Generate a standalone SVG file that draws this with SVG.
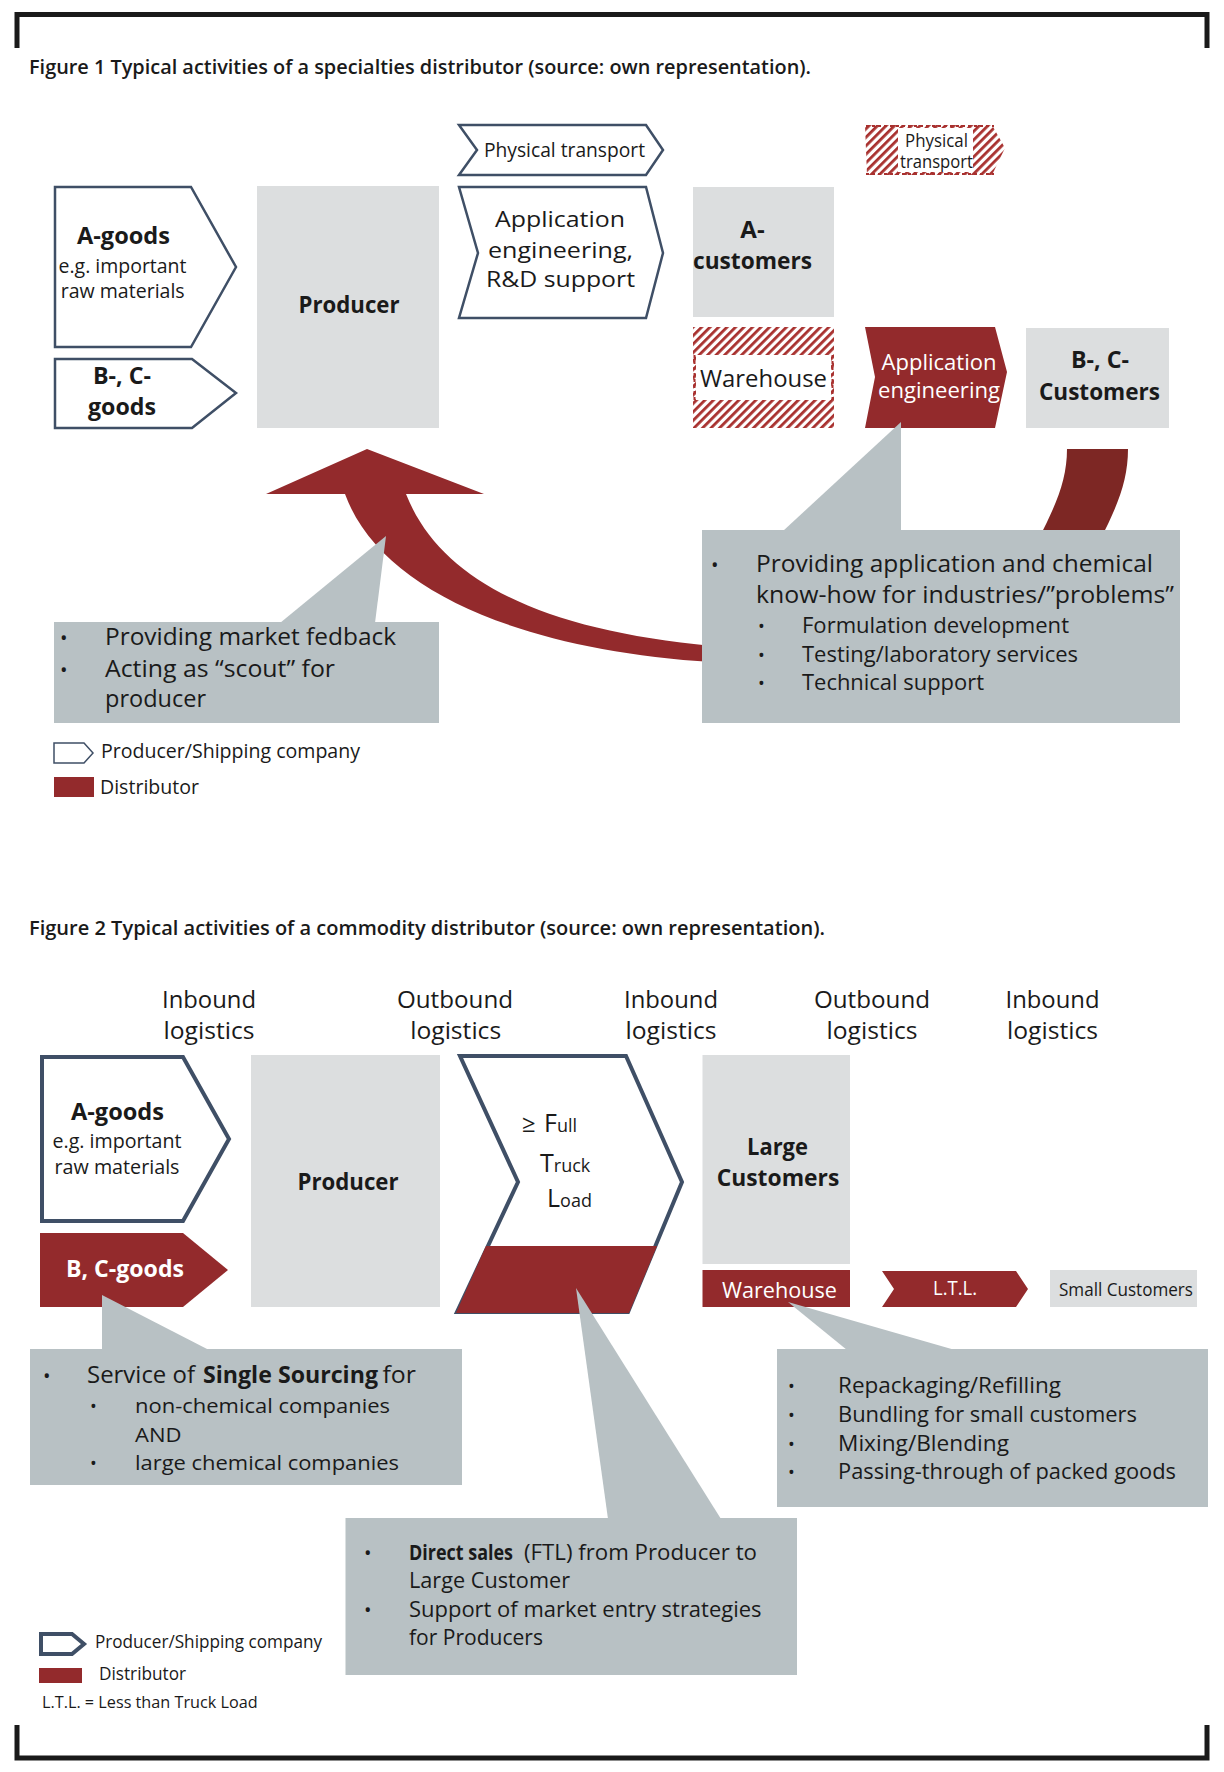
<svg xmlns="http://www.w3.org/2000/svg" width="1224" height="1772" viewBox="0 0 1224 1772">
<style>
text{font-family:'Open Sans','Noto Sans','Liberation Sans',sans-serif;fill:#1a1a1a}
.b{font-weight:700}
.s{font-weight:600}
.w{fill:#fff}
.m{text-anchor:middle}
.out{fill:#fff;stroke:#3f4f66;stroke-width:2.5}
.out4{fill:#fff;stroke:#3f4f66;stroke-width:4}
.box{fill:#dcdedf}
.red{fill:#932a2c}
.call{fill:#b8c1c4}
.frame{fill:none;stroke:#1a1a1a;stroke-width:5}
.dash{stroke:#a8302e;stroke-width:2;stroke-dasharray:3 3;fill:none}
</style>
<defs>
<pattern id="hatch" patternUnits="userSpaceOnUse" width="6" height="6" patternTransform="rotate(45)">
<rect width="6" height="6" fill="#fff"/>
<rect width="2.8" height="6" fill="#a8302e"/>
</pattern>
</defs>
<rect width="1224" height="1772" fill="#fff"/>

<g id="frame">
<path class="frame" d="M17,48 V14.5 H1207 V48"/>
<path class="frame" d="M17,1725 V1758 H1207 V1725"/>
</g>

<!-- ================= FIGURE 1 ================= -->
<text id="title1" class="s" x="29" y="74" font-size="20" textLength="782" lengthAdjust="spacingAndGlyphs">Figure 1 Typical activities of a specialties distributor (source: own representation).</text>

<g id="connectors">
<path class="red" d="M367,449 L266,494 L345,494 C380,590 520,650 712,662 L712,646 C540,630 440,580 406,494 L484,494 Z"/>
<path fill="#7d2724" d="M1067,449 L1128,449 C1128,480 1118,505 1100,540 L1038,540 C1056,505 1067,480 1067,449 Z"/>
</g>

<g id="f1-agoods">
<polygon class="out" points="55,187 191,187 236,267 191,347 55,347"/>
<text class="b m" x="123.5" y="244" font-size="24" textLength="93" lengthAdjust="spacingAndGlyphs">A-goods</text>
<text class="m" x="122.5" y="273" font-size="20" textLength="128" lengthAdjust="spacingAndGlyphs">e.g. important</text>
<text class="m" x="122.7" y="298" font-size="20" textLength="124" lengthAdjust="spacingAndGlyphs">raw materials</text>
</g>

<g id="f1-bcgoods">
<polygon class="out" points="55,359 192,359 236,393 192,428 55,428"/>
<text class="b m" x="122" y="384" font-size="24" textLength="58" lengthAdjust="spacingAndGlyphs">B-, C-</text>
<text class="b m" x="122" y="415" font-size="24" textLength="68" lengthAdjust="spacingAndGlyphs">goods</text>
</g>

<g id="f1-producer">
<rect class="box" x="257" y="186" width="182" height="242"/>
<text class="b m" x="349" y="313" font-size="24" textLength="101" lengthAdjust="spacingAndGlyphs">Producer</text>
</g>

<g id="f1-phys">
<polygon class="out" points="459,125 646,125 663,150 646,175 459,175 477,150"/>
<text x="484" y="157" font-size="20" textLength="161" lengthAdjust="spacingAndGlyphs">Physical transport</text>
</g>

<g id="f1-appeng">
<polygon class="out" points="459,187 646,187 663,253 646,318 459,318 478,253"/>
<text class="m" x="560" y="227" font-size="22" textLength="130" lengthAdjust="spacingAndGlyphs">Application</text>
<text class="m" x="560.5" y="258" font-size="22" textLength="145" lengthAdjust="spacingAndGlyphs">engineering,</text>
<text class="m" x="560.5" y="287" font-size="22" textLength="149" lengthAdjust="spacingAndGlyphs">R&amp;D support</text>
</g>

<g id="f1-acust">
<rect class="box" x="693" y="187" width="141" height="130"/>
<text class="b m" x="752.5" y="238" font-size="24">A-</text>
<text class="b m" x="752.5" y="269" font-size="24" textLength="119" lengthAdjust="spacingAndGlyphs">customers</text>
</g>

<g id="f1-warehouse">
<rect x="693" y="327" width="141" height="101" fill="url(#hatch)"/>
<rect x="696" y="355" width="135" height="45" fill="#fff"/>
<line class="dash" x1="694.5" y1="355" x2="694.5" y2="400"/>
<line class="dash" x1="832.5" y1="355" x2="832.5" y2="400"/>
<text x="700" y="387" font-size="24" textLength="127" lengthAdjust="spacingAndGlyphs">Warehouse</text>
</g>

<g id="f1-phys2">
<polygon points="865,125 992,125 1005,148 992,175 867,175" fill="url(#hatch)"/>
<rect x="898" y="128" width="75" height="44" fill="#fff"/>
<line class="dash" x1="866" y1="126" x2="994" y2="126"/>
<line class="dash" x1="866" y1="174" x2="994" y2="174"/>
<text class="m" x="936.5" y="147" font-size="18" textLength="63" lengthAdjust="spacingAndGlyphs">Physical</text>
<text class="m" x="936.5" y="168" font-size="18" textLength="73" lengthAdjust="spacingAndGlyphs">transport</text>
</g>

<g id="f1-appeng2">
<polygon class="red" points="865,327 995,327 1007,372 995,428 865,428 875,377"/>
<text class="w m" x="939" y="370" font-size="22" textLength="115" lengthAdjust="spacingAndGlyphs">Application</text>
<text class="w m" x="939" y="398" font-size="22" textLength="122" lengthAdjust="spacingAndGlyphs">engineering</text>
</g>

<g id="f1-bccust">
<rect class="box" x="1026" y="328" width="143" height="100"/>
<text class="b m" x="1100" y="368" font-size="24" textLength="58" lengthAdjust="spacingAndGlyphs">B-, C-</text>
<text class="b m" x="1099.5" y="400" font-size="24" textLength="121" lengthAdjust="spacingAndGlyphs">Customers</text>
</g>

<g id="f1-callout-right">
<polygon class="call" points="783,531 901,422 901,531"/>
<rect class="call" x="702" y="530" width="478" height="193"/>
<text x="711" y="572" font-size="20">•</text>
<text x="756" y="572" font-size="24" textLength="397" lengthAdjust="spacingAndGlyphs">Providing application and chemical</text>
<text x="756" y="603" font-size="24" textLength="418" lengthAdjust="spacingAndGlyphs">know-how for industries/”problems”</text>
<text x="758" y="633" font-size="18">•</text>
<text x="802" y="633" font-size="21" textLength="267" lengthAdjust="spacingAndGlyphs">Formulation development</text>
<text x="758" y="662" font-size="18">•</text>
<text x="802" y="662" font-size="21" textLength="276" lengthAdjust="spacingAndGlyphs">Testing/laboratory services</text>
<text x="758" y="690" font-size="18">•</text>
<text x="802" y="690" font-size="21" textLength="182" lengthAdjust="spacingAndGlyphs">Technical support</text>
</g>

<g id="f1-callout-left">
<polygon class="call" points="280,623 386,536 375,623"/>
<rect class="call" x="54" y="622" width="385" height="101"/>
<text x="60" y="645" font-size="20">•</text>
<text x="105" y="645" font-size="24" textLength="291" lengthAdjust="spacingAndGlyphs">Providing market fedback</text>
<text x="60" y="677" font-size="20">•</text>
<text x="105" y="677" font-size="24" textLength="230" lengthAdjust="spacingAndGlyphs">Acting as “scout” for</text>
<text x="105" y="707" font-size="24" textLength="101" lengthAdjust="spacingAndGlyphs">producer</text>
</g>

<g id="f1-legend">
<polygon fill="#fff" stroke="#3f4f66" stroke-width="1.5" points="54,743 84,743 93,753 84,763 54,763"/>
<text x="101" y="758" font-size="20" textLength="259" lengthAdjust="spacingAndGlyphs">Producer/Shipping company</text>
<rect class="red" x="54" y="777" width="40" height="20"/>
<text x="100" y="794" font-size="20" textLength="99" lengthAdjust="spacingAndGlyphs">Distributor</text>
</g>

<!-- ================= FIGURE 2 ================= -->
<text id="title2" class="s" x="29" y="935" font-size="20" textLength="796" lengthAdjust="spacingAndGlyphs">Figure 2 Typical activities of a commodity distributor (source: own representation).</text>

<g id="f2-headers">
<text class="m" x="209" y="1008" font-size="24" textLength="94" lengthAdjust="spacingAndGlyphs">Inbound</text>
<text class="m" x="209" y="1039" font-size="24" textLength="91" lengthAdjust="spacingAndGlyphs">logistics</text>
<text class="m" x="455" y="1008" font-size="24" textLength="116" lengthAdjust="spacingAndGlyphs">Outbound</text>
<text class="m" x="455.7" y="1039" font-size="24" textLength="91" lengthAdjust="spacingAndGlyphs">logistics</text>
<text class="m" x="671" y="1008" font-size="24" textLength="94" lengthAdjust="spacingAndGlyphs">Inbound</text>
<text class="m" x="671" y="1039" font-size="24" textLength="91" lengthAdjust="spacingAndGlyphs">logistics</text>
<text class="m" x="872" y="1008" font-size="24" textLength="116" lengthAdjust="spacingAndGlyphs">Outbound</text>
<text class="m" x="872" y="1039" font-size="24" textLength="91" lengthAdjust="spacingAndGlyphs">logistics</text>
<text class="m" x="1052.5" y="1008" font-size="24" textLength="94" lengthAdjust="spacingAndGlyphs">Inbound</text>
<text class="m" x="1052.5" y="1039" font-size="24" textLength="91" lengthAdjust="spacingAndGlyphs">logistics</text>
</g>

<g id="f2-agoods">
<polygon class="out4" points="42,1057 183,1057 229,1139 183,1221 42,1221"/>
<text class="b m" x="117.5" y="1120" font-size="24" textLength="93" lengthAdjust="spacingAndGlyphs">A-goods</text>
<text class="m" x="117" y="1148" font-size="20" textLength="129" lengthAdjust="spacingAndGlyphs">e.g. important</text>
<text class="m" x="117" y="1174" font-size="20" textLength="125" lengthAdjust="spacingAndGlyphs">raw materials</text>
</g>

<g id="f2-bcgoods">
<polygon class="red" points="40,1233 183,1233 228,1270 183,1307 40,1307"/>
<text class="b w m" x="125" y="1277" font-size="24" textLength="118" lengthAdjust="spacingAndGlyphs">B, C-goods</text>
</g>

<g id="f2-producer">
<rect class="box" x="251" y="1055" width="189" height="252"/>
<text class="b m" x="348" y="1190" font-size="24" textLength="101" lengthAdjust="spacingAndGlyphs">Producer</text>
</g>

<g id="f2-ftl">
<polygon class="out4" points="460,1056 626,1056 682,1182 628,1312 457,1312 518,1182"/>
<polygon class="red" points="486,1246 657,1246 629,1313 456,1313"/>
<text x="522" y="1132" font-size="24">≥</text>
<text x="544" y="1132"><tspan font-size="25">F</tspan><tspan font-size="18">ull</tspan></text>
<text x="540" y="1172"><tspan font-size="25">T</tspan><tspan font-size="18">ruck</tspan></text>
<text x="547" y="1207"><tspan font-size="25">L</tspan><tspan font-size="18">oad</tspan></text>
</g>

<g id="f2-largecust">
<rect class="box" x="702.5" y="1055" width="147.5" height="209"/>
<text class="b m" x="777.5" y="1155" font-size="24" textLength="61" lengthAdjust="spacingAndGlyphs">Large</text>
<text class="b m" x="778" y="1186" font-size="24" textLength="122.5" lengthAdjust="spacingAndGlyphs">Customers</text>
</g>

<g id="f2-warehouse">
<rect class="red" x="702.5" y="1270" width="147.5" height="37"/>
<text class="w m" x="779.5" y="1298" font-size="22" textLength="115" lengthAdjust="spacingAndGlyphs">Warehouse</text>
</g>

<g id="f2-ltl">
<polygon class="red" points="882,1271 1016,1271 1028,1289 1016,1307 882,1307 894,1289"/>
<text class="w m" x="955" y="1295" font-size="20" textLength="44" lengthAdjust="spacingAndGlyphs">L.T.L.</text>
</g>

<g id="f2-smallcust">
<rect class="box" x="1050" y="1270" width="147" height="37"/>
<text x="1059" y="1296" font-size="18" textLength="134" lengthAdjust="spacingAndGlyphs">Small Customers</text>
</g>

<g id="f2-callout-single">
<polygon class="call" points="102,1295 102,1350 209,1350"/>
<rect class="call" x="30" y="1349" width="432" height="136"/>
<text x="43" y="1383" font-size="20">•</text>
<text x="87" y="1383" font-size="23" textLength="108" lengthAdjust="spacingAndGlyphs">Service of</text>
<text class="b" x="203" y="1383" font-size="23" textLength="175" lengthAdjust="spacingAndGlyphs">Single Sourcing</text>
<text x="382.5" y="1383" font-size="23" textLength="33.5" lengthAdjust="spacingAndGlyphs">for</text>
<text x="90" y="1413" font-size="18">•</text>
<text x="135" y="1413" font-size="20" textLength="255" lengthAdjust="spacingAndGlyphs">non-chemical companies</text>
<text x="135" y="1442" font-size="20" textLength="46.5" lengthAdjust="spacingAndGlyphs">AND</text>
<text x="90" y="1470" font-size="18">•</text>
<text x="135" y="1470" font-size="20" textLength="264" lengthAdjust="spacingAndGlyphs">large chemical companies</text>
</g>

<g id="f2-callout-direct">
<polygon class="call" points="576,1288 608,1519 721,1519"/>
<rect class="call" x="345.5" y="1518" width="451.5" height="157"/>
<text x="364" y="1560" font-size="20">•</text>
<text class="b" x="409" y="1560" font-size="22" textLength="104" lengthAdjust="spacingAndGlyphs">Direct sales</text>
<text x="524" y="1560" font-size="22" textLength="233" lengthAdjust="spacingAndGlyphs">(FTL) from Producer to</text>
<text x="409" y="1588" font-size="22" textLength="161" lengthAdjust="spacingAndGlyphs">Large Customer</text>
<text x="364" y="1617" font-size="20">•</text>
<text x="409" y="1617" font-size="22" textLength="352.5" lengthAdjust="spacingAndGlyphs">Support of market entry strategies</text>
<text x="409" y="1645" font-size="22" textLength="134" lengthAdjust="spacingAndGlyphs">for Producers</text>
</g>

<g id="f2-callout-warehouse">
<polygon class="call" points="788,1302 847,1350 955,1350"/>
<rect class="call" x="777" y="1349" width="431" height="158"/>
<text x="788" y="1393" font-size="18">•</text>
<text x="838" y="1393" font-size="21" textLength="223" lengthAdjust="spacingAndGlyphs">Repackaging/Refilling</text>
<text x="788" y="1422" font-size="18">•</text>
<text x="838" y="1422" font-size="21" textLength="299" lengthAdjust="spacingAndGlyphs">Bundling for small customers</text>
<text x="788" y="1451" font-size="18">•</text>
<text x="838" y="1451" font-size="21" textLength="171" lengthAdjust="spacingAndGlyphs">Mixing/Blending</text>
<text x="788" y="1479" font-size="18">•</text>
<text x="838" y="1479" font-size="21" textLength="338" lengthAdjust="spacingAndGlyphs">Passing-through of packed goods</text>
</g>

<g id="f2-legend">
<polygon class="out4" points="41,1634 72,1634 84,1644 72,1654 41,1654"/>
<text x="95" y="1648" font-size="18" textLength="227" lengthAdjust="spacingAndGlyphs">Producer/Shipping company</text>
<rect class="red" x="39" y="1668" width="43" height="15"/>
<text x="99" y="1680" font-size="18" textLength="87" lengthAdjust="spacingAndGlyphs">Distributor</text>
<text x="42" y="1708" font-size="17" textLength="215.6" lengthAdjust="spacingAndGlyphs">L.T.L. = Less than Truck Load</text>
</g>
</svg>
